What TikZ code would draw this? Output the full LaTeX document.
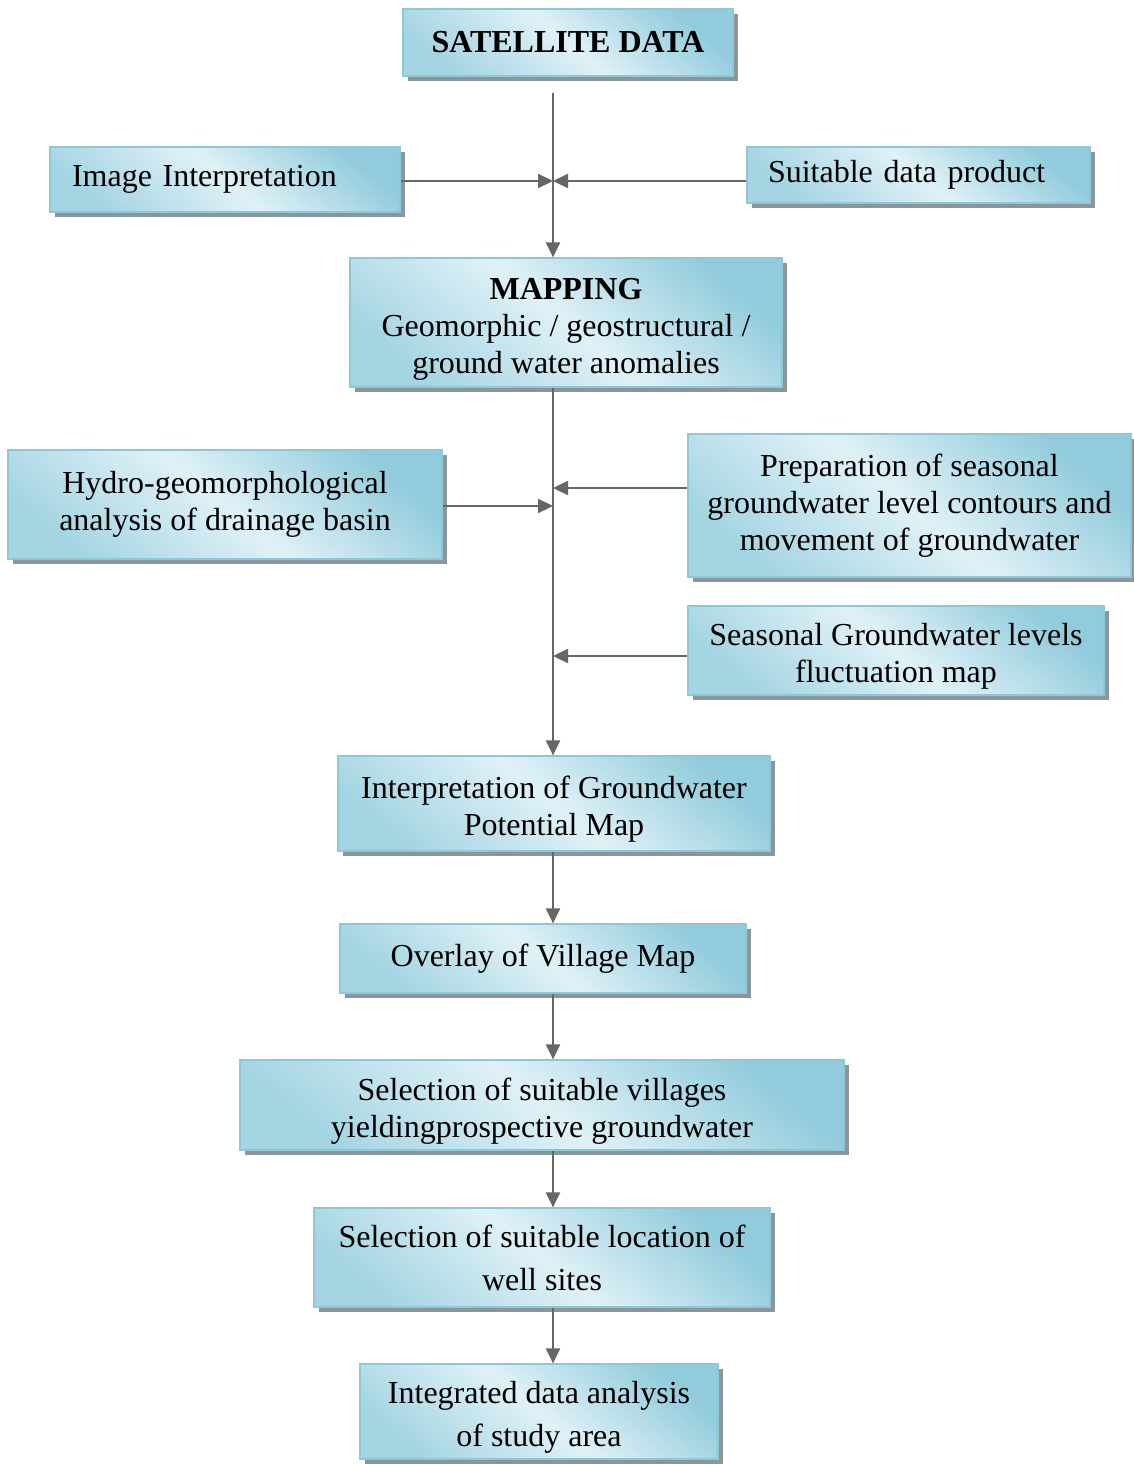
\documentclass[tikz,border=0pt]{standalone}
\usepackage{fontspec}
\setmainfont{Liberation Serif}
\usetikzlibrary{positioning, arrows.meta, shadows}

\definecolor{boxdark}{RGB}{146,204,220}
\definecolor{boxlight}{RGB}{224,241,247}
\definecolor{boxedge}{RGB}{140,200,216}
\definecolor{shadowgray}{RGB}{138,150,156}
\definecolor{flowgray}{RGB}{102,102,102}

\newcommand{\lowstrut}{\rule{0pt}{34pt}}

\begin{document}
\begin{tikzpicture}[
      x=1pt, y=-1pt,
      box/.style={draw=boxedge, line width=1.2pt, inner sep=0pt, align=center,
        top color=boxdark, bottom color=boxdark!75!boxlight, middle color=boxlight, shading angle=-40,
        drop shadow={shadow xshift=5pt, shadow yshift=-5pt, fill=shadowgray, opacity=1},
        font=\fontsize{32}{37}\selectfont},
      wide/.style={font=\fontsize{32}{43}\selectfont},
      flow/.style={-{Triangle[length=15pt, width=14pt]}, draw=flowgray, fill=flowgray, line width=2.2pt}
    ]
      \useasboundingbox (0,0) rectangle (1134,1465);

      \node[box, minimum width=330pt, minimum height=67pt] (sat) at (568,42.5) {\textbf{SATELLITE DATA}};
      \node[box, minimum height=65pt, inner xsep=22pt, text width=306pt, align=left] (interp) at (225,179.5) {Image Interpretation};
      \node[box, minimum height=56pt, inner xsep=21pt, text width=301pt, align=left] (product) at (918.5,175) {Suitable data product};
      \node[box, minimum width=432pt, minimum height=129pt] (mapping) at (566,322.5) {\lowstrut\textbf{MAPPING}\\Geomorphic / geostructural /\\ground water anomalies};
      \node[box, minimum width=434pt, minimum height=109pt] (hydro) at (225,504.5) {Hydro-geomorphological\\analysis of drainage basin};
      \node[box, minimum width=443pt, minimum height=143pt] (prep) at (909.5,505.5) {Preparation of seasonal\\groundwater level contours and\\movement of groundwater};
      \node[box, minimum width=416pt, minimum height=89pt] (seasonal) at (896,650.5) {\lowstrut Seasonal Groundwater levels\\fluctuation map};
      \node[box, minimum width=432pt, minimum height=95pt] (potential) at (554,803.5) {\lowstrut Interpretation of Groundwater\\Potential Map};
      \node[box, minimum width=406pt, minimum height=69pt] (overlay) at (543,958.5) {Overlay of Village Map};
      \node[box, minimum width=604pt, minimum height=90pt] (villages) at (542,1105) {\lowstrut Selection of suitable villages\\yieldingprospective groundwater};
      \node[box, wide, minimum width=456pt, minimum height=99pt] (location) at (542,1257.5) {Selection of suitable location of\\well sites};
      \node[box, wide, minimum width=358pt, minimum height=95pt] (integrated) at (539,1411.5) {\lowstrut Integrated data analysis\\of study area};

      % junctions on the main line
      \coordinate (jtop) at (553,181);
      \coordinate (jhydro) at (553,506);
      \coordinate (jprep) at (553,488);
      \coordinate (jseas) at (553,656);

      \draw[flow] ([yshift=-16pt]sat.south -| jtop) -- (mapping.north -| jtop);
      \draw[flow] (interp.east |- jtop) -- (jtop);
      \draw[flow] (product.west |- jtop) -- (jtop);
      \draw[flow] (mapping.south -| jtop) -- (potential.north -| jtop);
      \draw[flow] (hydro.east |- jhydro) -- (jhydro);
      \draw[flow] (prep.west |- jprep) -- (jprep);
      \draw[flow] (seasonal.west |- jseas) -- (jseas);
      \draw[flow] (potential.south -| jtop) -- (overlay.north -| jtop);
      \draw[flow] (overlay.south -| jtop) -- (villages.north -| jtop);
      \draw[flow] (villages.south -| jtop) -- (location.north -| jtop);
      \draw[flow] (location.south -| jtop) -- (integrated.north -| jtop);
    \end{tikzpicture}
\end{document}
